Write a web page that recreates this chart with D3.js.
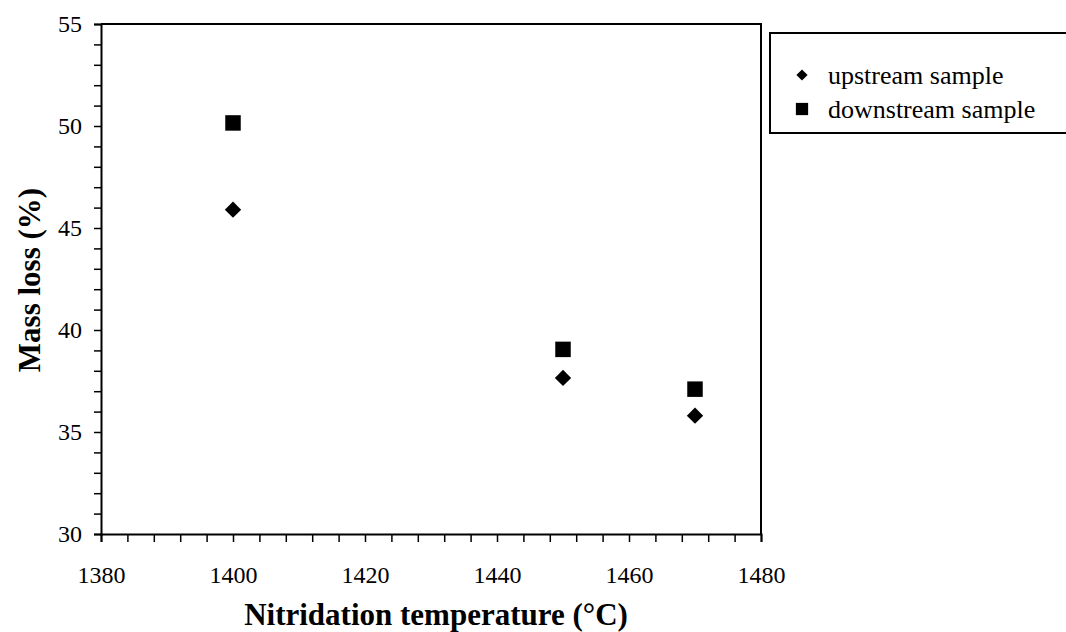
<!DOCTYPE html>
<html>
<head>
<meta charset="utf-8">
<script src="https://cdn.jsdelivr.net/npm/d3@7"></script>
<style>
  html, body { margin: 0; padding: 0; background: #fff; }
  svg { display: block; }
  svg text { font-family: "Liberation Serif", "Times New Roman", serif !important; fill: #000; }
</style>
</head>
<body>
<svg id="chart" width="1066" height="632"></svg>
<script>
// ---- data ----
const temperatures = [1400, 1450, 1470];
const upstream = [45.9, 37.65, 35.8];
const downstream = [50.15, 39.05, 37.1];
const seriesNames = ["upstream sample", "downstream sample"];
const xTickLabels = [1380, 1400, 1420, 1440, 1460, 1480];
const yTickLabels = [30, 35, 40, 45, 50, 55];
const xTitle = "Nitridation temperature (°C)";
const yTitle = "Mass loss (%)";

// ---- layout ----
const plot = { left: 101, right: 761, top: 24, bottom: 534 };
const svg = d3.select("#chart");

const x = d3.scaleLinear().domain([1380, 1480]).range([plot.left, plot.right]);
const y = d3.scaleLinear().domain([30, 55]).range([plot.bottom, plot.top]);

// plot frame (top & right)
svg.append("path")
  .attr("d", `M${plot.left},${plot.top}H${plot.right}V${plot.bottom}`)
  .attr("fill", "none").attr("stroke", "#000").attr("stroke-width", 2);

const xMinor = d3.range(1380, 1480.1, 4);
const yMinor = d3.range(30, 55.1, 1);

const xAxisG = svg.append("g").attr("transform", `translate(0,${plot.bottom})`);
xAxisG.call(d3.axisBottom(x).tickValues(xMinor).tickSize(8).tickFormat(""));
const xLab = xAxisG.append("g").call(d3.axisBottom(x).tickValues(xTickLabels).tickSize(0).tickPadding(32).tickFormat(d3.format("d")));
xLab.select("path.domain").remove();
xAxisG.selectAll("path.domain").attr("stroke-width", 2);
xAxisG.selectAll("line").attr("stroke-width", 1.5);
xAxisG.selectAll("g").attr("font-family", null).attr("font-size", null);
xAxisG.attr("font-family", null).attr("font-size", null);
xAxisG.selectAll("text").style("font-size", "24px");

const yAxisG = svg.append("g").attr("transform", `translate(${plot.left},0)`);
yAxisG.call(d3.axisLeft(y).tickValues(yMinor).tickSize(7).tickFormat(""));
const yLab = yAxisG.append("g").call(d3.axisLeft(y).tickValues(yTickLabels).tickSize(0).tickPadding(19).tickFormat(d3.format("d")));
yLab.select("path.domain").remove();
yAxisG.selectAll("path.domain").attr("stroke-width", 2);
yAxisG.selectAll("line").attr("stroke-width", 1.5);
yAxisG.selectAll("g").attr("font-family", null).attr("font-size", null);
yAxisG.attr("font-family", null).attr("font-size", null);
yAxisG.selectAll("text").style("font-size", "24px");

// axis titles
svg.append("text")
  .attr("x", 436).attr("y", 625)
  .attr("text-anchor", "middle")
  .style("font-size", "31px").style("font-weight", "bold")
  .text(xTitle);

svg.append("text")
  .attr("transform", `translate(40,280) rotate(-90)`)
  .attr("text-anchor", "middle")
  .style("font-size", "31px").style("font-weight", "bold")
  .text(yTitle);

// markers
const diamond = d3.symbol().type(d3.symbolDiamond2).size(170);
const square = d3.symbol().type(d3.symbolSquare).size(240);

svg.append("g").selectAll("path")
  .data(temperatures.map((t, i) => ({ t, v: downstream[i] })))
  .join("path")
  .attr("d", square)
  .attr("transform", d => `translate(${x(d.t)},${y(d.v)})`)
  .attr("fill", "#000");

svg.append("g").selectAll("path")
  .data(temperatures.map((t, i) => ({ t, v: upstream[i] })))
  .join("path")
  .attr("d", diamond)
  .attr("transform", d => `translate(${x(d.t)},${y(d.v)})`)
  .attr("fill", "#000");

// legend
const lg = svg.append("g");
lg.append("rect")
  .attr("x", 770).attr("y", 33).attr("width", 320).attr("height", 100)
  .attr("fill", "#fff").attr("stroke", "#000").attr("stroke-width", 2);
const legendItems = [
  { name: seriesNames[0], sym: d3.symbol().type(d3.symbolDiamond2).size(80), cy: 75 },
  { name: seriesNames[1], sym: d3.symbol().type(d3.symbolSquare).size(150), cy: 109 }
];
legendItems.forEach(it => {
  lg.append("path").attr("d", it.sym).attr("transform", `translate(802,${it.cy})`).attr("fill", "#000");
  lg.append("text").attr("x", 828).attr("y", it.cy).attr("dy", "0.33em")
    .style("font-size", "26px").text(it.name);
});
</script>
</body>
</html>
